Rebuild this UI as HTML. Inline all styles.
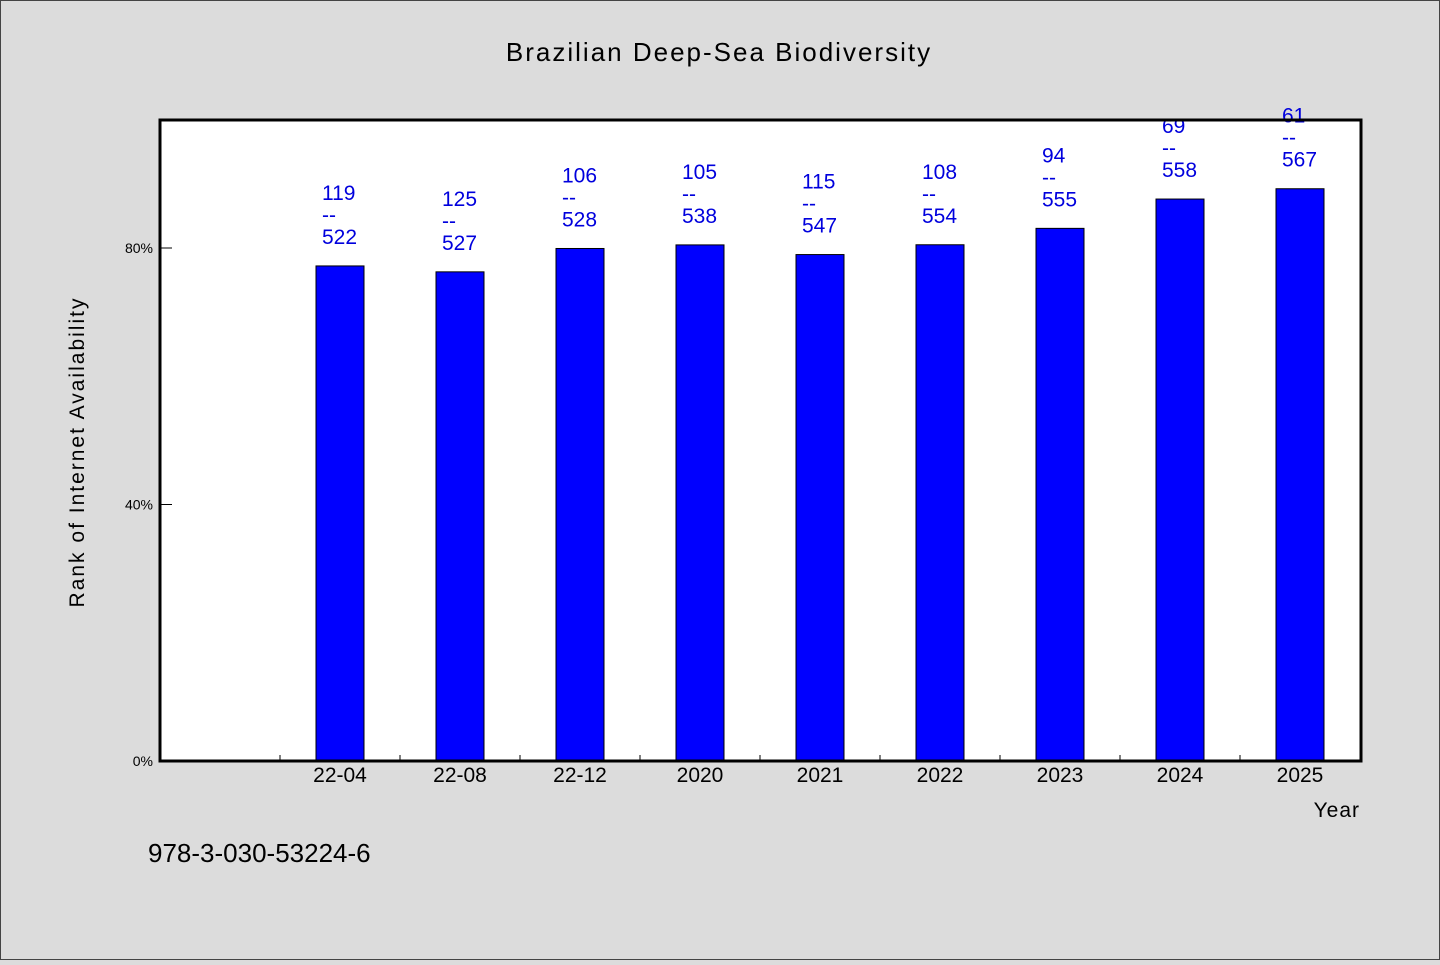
<!DOCTYPE html>
<html><head><meta charset="utf-8"><style>
body{margin:0;background:#dcdcdc;}
svg text{font-family:"WenQuanYi Zen Hei","Liberation Sans",sans-serif;}
</style></head><body>
<svg id="chart" width="1440" height="960" xmlns="http://www.w3.org/2000/svg">
<rect x="0.5" y="0.5" width="1439" height="959" fill="#dcdcdc" stroke="#444"/>
<text x="719" y="61" font-size="26" text-anchor="middle" letter-spacing="2">Brazilian Deep-Sea Biodiversity</text>
<rect x="160" y="120" width="1201" height="641" fill="#fff"/>
<g id="bars"></g>
<g id="labels"></g>
<rect x="160" y="120" width="1201" height="641" fill="none" stroke="#000" stroke-width="3"/>
<g id="axes"></g>
<text transform="translate(84,452) rotate(-90)" font-size="21" text-anchor="middle" letter-spacing="2">Rank of Internet Availability</text>
<text x="1360" y="817" font-size="21" text-anchor="end" letter-spacing="1">Year</text>
<text x="148" y="862" font-size="26">978-3-030-53224-6</text>
</svg>
<script>
const categories=["22-04","22-08","22-12","2020","2021","2022","2023","2024","2025"];
const ranks=[119,125,106,105,115,108,94,69,61];
const totals=[522,527,528,538,547,554,555,558,567];
const yTicks=[0,40,80];
const NS="http://www.w3.org/2000/svg";
const x0=160,slot=120,yb=761,pxPer=(761-248)/80;
const xC=i=>x0+slot*(i+1)+slot/2;
const yS=v=>yb-v*pxPer;
function mk(t,a,p){const e=document.createElementNS(NS,t);for(const k in a)e.setAttribute(k,a[k]);p.appendChild(e);return e;}
const bars=document.getElementById('bars'),labels=document.getElementById('labels'),axes=document.getElementById('axes');
categories.forEach((c,i)=>{
 const v=(1-ranks[i]/totals[i])*100;
 const top=yS(v);
 const r=mk('rect',{x:xC(i)-24,y:top,width:48,height:yb-top,fill:'#0000ff',stroke:'#000','stroke-width':1},bars);
 
 
 const lines=[String(ranks[i]),'--',String(totals[i])];
 lines.forEach((s,j)=>{
  const t=mk('text',{x:xC(i)-18,y:top-66+22*j,'font-size':21,fill:'#0000dd'},labels);
  t.textContent=s;
  
  
 });
 const tl=mk('text',{x:xC(i),y:782,'font-size':21,'text-anchor':'middle'},axes);
 tl.textContent=c;
 
 
});
for(let i=1;i<=9;i++){
 const tk=mk('line',{x1:x0+slot*i,x2:x0+slot*i,y1:yb,y2:yb-6,stroke:'#000'},axes);
 
 
}
yTicks.forEach(v=>{
 const y=yS(v);
 const l=mk('line',{x1:160,x2:172,y1:y,y2:y,stroke:'#000'},axes);
 
 
 const t=mk('text',{x:153,y:y+5,'font-size':14,'text-anchor':'end'},axes);
 t.textContent=v+'%';
 
 
});
</script>
</body></html>
